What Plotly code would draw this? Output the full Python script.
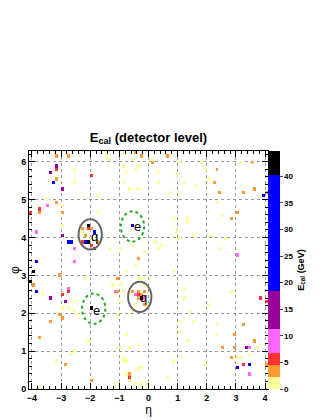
import numpy as np
import plotly.graph_objects as go

# Energy level per colour class (GeV)
LV = {"Y": 1.2, "O": 3.5, "R": 5.5, "P": 9.0, "V": 15.0, "B": 28.0, "K": 42.0}

# calorimeter cells: eta, phi, colour class (one line of each list matches the others)
cell_eta = [
    -3.15, -2.75, -3.15, -3.15, -3.35, -3.15, -3.25, -2.95, -2.55, -2.55, -2.35, -1.95, -1.75,
    -1.45, -1.35, -0.85, -0.45, -0.55, -0.25, -0.35, -0.85, -0.45, -0.75, -0.85, -0.35, -0.65,
    0.15, 0.15, 0.65, 0.35, 0.35, 0.95, 1.05, 1.05, 1.25, 1.65, 1.85, 1.95, 2.05, 2.25, 2.35,
    2.45, 3.15, 3.55, 3.25, 3.65, 4.05, 3.95, 0.75,
    -3.15, -3.45, -3.75, -3.75, -4.05, -2.95, -2.95, -2.95, -3.85, -2.95, -1.75, -3.45,
    -3.85, -3.95, -4.05, -3.95, -3.85, -3.65, -3.35, -3.05, -2.55, -2.55, -2.75, -2.75, -2.95,
    -2.85, -2.95, -2.75, -2.55, -2.55, -2.45, -3.05, -2.95, -3.35, -2.15, -3.75, -3.15, -2.85,
    -2.65, -2.55, -2.05, -1.95, -3.75,
    -2.05, -2.05, -1.95, -2.25, -2.25, -2.15, -1.85, -2.75, -2.65, -2.25, -2.15, -2.05, -1.95,
    -1.85, -1.75, -1.95,
    -1.35, -0.95, -0.55, -0.15, -0.35, -0.45, -0.55, -0.75, 0.25, 0.35, 0.45, 0.85, 1.35, 1.35,
    1.05, 1.55, 2.15, 2.65, 2.45, 2.55, 2.85, 3.05, 2.35, 3.05, 0.85, 1.25, 1.25, 2.85, 2.05,
    1.45, 3.85, 4.05, 0.95,
    -1.05, -1.25, -1.15, -1.05, -1.15, -0.95, -0.95, -0.85, -1.05, -0.55, -0.35, -0.25, 0.05,
    -0.15,
    -0.55, -0.35, -0.15, -0.45, -0.35, -0.25, -0.35, -0.25, -0.15, -0.45, -0.15, -0.05,
    1.05, 1.55, 1.05, 2.35, 2.35, 2.95, 3.25, 1.35, 3.65, 2.55, 2.95, 3.35, 3.45, 3.75, 3.45,
    2.85, 3.05, 3.15, 3.25, 3.45, 3.05, 3.45, 4.05, 1.95, 1.15, 0.85, 0.65, 0.95,
    -0.75, -0.35, -0.65, -0.95, -0.85, -0.85, -0.75, -0.45, -0.35, -0.25, -0.65, -0.65, -0.75,
    -0.65, -0.45, -0.25, -0.05, -1.15,
    -1.95,
]
cell_phi = [
    6.16, 6.16, 5.90, 5.81, 5.72, 5.54, 5.45, 5.28, 5.80, 5.45, 5.20, 5.63, 5.11,
    6.16, 6.07, 6.24, 6.24, 6.07, 6.16, 5.89, 5.89, 5.80, 5.72, 5.45, 5.28, 5.28,
    6.07, 5.98, 6.16, 5.72, 5.45, 5.63, 5.98, 5.19, 5.45, 5.36, 5.98, 5.80, 5.54, 5.45, 5.80,
    5.19, 5.98, 5.98, 5.19, 5.28, 5.19, 5.10, 5.19,
    4.94, 4.85, 4.76, 4.67, 4.67, 4.85, 4.67, 4.32, 4.15, 4.06, 4.67, 5.01,
    3.37, 3.11, 2.84, 2.76, 2.58, 2.49, 2.40, 3.02, 3.37, 3.71, 2.67, 2.58, 2.49,
    2.32, 2.14, 2.14, 2.32, 2.05, 1.96, 1.96, 1.88, 1.79, 2.91, 1.35, 0.73, 0.64,
    0.91, 1.00, 1.26, 0.20, 0.03,
    4.32, 4.23, 4.23, 4.23, 4.15, 4.06, 4.15, 3.88, 3.88, 3.88, 3.88, 3.88, 3.79,
    3.71, 3.88, 3.97,
    3.71, 3.71, 3.79, 3.62, 3.44, 3.27, 4.32, 3.09, 3.88, 3.71, 3.79, 4.50, 4.50, 4.41,
    3.97, 4.06, 4.06, 3.97, 3.71, 4.59, 4.50, 4.67, 4.93, 3.53, 3.09, 2.65, 2.40, 2.58, 2.23,
    2.05, 2.40, 2.32, 4.13,
    2.91, 2.74, 2.58, 2.58, 2.49, 2.74, 2.32, 2.58, 1.96, 2.05, 2.93, 2.93, 2.93,
    2.74,
    2.58, 2.58, 2.58, 2.49, 2.49, 2.49, 2.40, 2.40, 2.40, 2.23, 2.23, 2.23,
    1.79, 1.79, 1.52, 1.70, 1.43, 1.43, 1.70, 1.26, 1.26, 1.08, 1.08, 1.08, 1.08, 1.08, 0.91,
    0.82, 0.82, 0.82, 0.64, 0.64, 0.55, 0.38, 0.64, 0.64, 0.82, 0.73, 0.29, 0.03,
    1.43, 1.17, 1.08, 1.08, 0.82, 0.73, 0.73, 0.47, 0.55, 0.55, 0.38, 0.29, 0.38,
    0.20, 0.11, 0.11, 0.11, 0.11,
    2.14,
]
cell_cls = list(
    "OOVRVOBVYYYRY"
    "YYYOYOYYYYYYY"
    "YOOYYYYYYYYYYOO"
    "OYOOOOBY"
    "OPRORYOYPVYY"
    "BKKOBYVOPPPRR"
    "VYYYYYOOOYOYO"
    "YYYOY"
    "KROOYOBBBRBKR"
    "VOY"
    "YYYYOYBYYYYYYY"
    "YYYYYYOOYPYYYYY"
    "YRRY"
    "OYPOYYYYYYYYY"
    "Y"
    "OOOPROOKPYOY"
    "YYYYYOOYOOOVPYY"
    "OYYRBBPOYYYYY"
    "YYYYYYYYYYORY"
    "YYYYY"
    "K"
)
assert len(cell_eta) == len(cell_phi) == len(cell_cls)
cell_E = [LV[c] for c in cell_cls]

# jets (solid) and electrons (dotted): cone centres, R = 0.4
jet_eta, jet_phi = [-2.0, -0.3], [4.08, 2.43]
ele_eta, ele_phi = [-0.55, -1.88], [4.29, 2.12]
cone_R = 0.4
lab_text = ["q", "q", "e", "e"]
lab_eta = [-1.85, -0.18, -0.38, -1.77]
lab_phi = [4.02, 2.42, 4.29, 2.08]

E_max = 44.75
level_frac = [0, 0.05, 0.10, 0.15, 0.25, 0.41, 0.90, 1.0]
level_col = ["#ffff99", "#ff9933", "#ff3333", "#ff66ff", "#990099", "#0000ff", "#000000"]
cbar_ticks = [0, 5, 10, 15, 20, 25, 30, 35, 40]

# build 2D grid
n_eta, n_phi = 82, 72
deta, dphi = 0.1, 2 * np.pi / 72
eta_c = -4.1 + deta * (np.arange(n_eta) + 0.5)
phi_c = dphi * (np.arange(n_phi) + 0.5)
z = np.full((n_phi, n_eta), np.nan)
for e, p, v in zip(cell_eta, cell_phi, cell_E):
    i = int(np.clip(np.floor((e + 4.1) / deta), 0, n_eta - 1))
    j = int(np.clip(np.floor(p / dphi), 0, n_phi - 1))
    z[j, i] = v

cs = []
for k, c in enumerate(level_col):
    cs.append([level_frac[k], c])
    cs.append([level_frac[k + 1], c])

fig = go.Figure()
fig.add_trace(go.Heatmap(
    x=eta_c, y=phi_c, z=z, zmin=0, zmax=E_max, colorscale=cs, hoverongaps=False,
    colorbar=dict(
        x=1.0, xanchor="left", xpad=0, y=0.5, yanchor="middle", ypad=0, len=1,
        thickness=12, outlinewidth=0, tickvals=cbar_ticks, ticks="outside", ticklen=3,
        tickfont=dict(family="Liberation Sans", size=8, color="black", weight="bold"),
        title=dict(text="E<sub>cal</sub> (GeV)", side="right",
                   font=dict(family="Liberation Sans", size=9, color="black", weight="bold")),
    ),
))

shapes = []
for e, p in zip(jet_eta, jet_phi):
    shapes.append(dict(type="circle", xref="x", yref="y", x0=e - cone_R, x1=e + cone_R,
                       y0=p - cone_R, y1=p + cone_R, line=dict(color="#666666", width=2)))
for e, p in zip(ele_eta, ele_phi):
    shapes.append(dict(type="circle", xref="x", yref="y", x0=e - cone_R, x1=e + cone_R,
                       y0=p - cone_R, y1=p + cone_R,
                       line=dict(color="#22aa22", width=2, dash="dot")))

ann = [dict(x=x, y=y, text=t, showarrow=False, xref="x", yref="y",
            font=dict(family="Liberation Sans", size=13, color="black"))
       for t, x, y in zip(lab_text, lab_eta, lab_phi)]

axis_common = dict(
    showline=True, linecolor="black", linewidth=1, mirror="ticks",
    ticks="inside", ticklen=6, tickcolor="black", automargin=False,
    showgrid=True, gridcolor="#999999", griddash="dot", gridwidth=1,
    zeroline=False,
    tickfont=dict(family="Liberation Sans", size=9, color="black", weight="bold"),
)

# page body adds an 8px offset, so the figure is 8px smaller on each axis
W, H = 316, 412
fig.update_layout(
    width=W, height=H,
    margin=dict(l=21, r=56, t=143, b=31, autoexpand=False),
    paper_bgcolor="white", plot_bgcolor="white",
    title=dict(text="<b>E<sub>cal</sub> (detector level)</b>", x=0.5, xref="paper",
               y=1 - 129 / H, yref="container", yanchor="middle", xanchor="center",
               automargin=False,
               font=dict(family="Liberation Sans", size=13, color="black")),
    shapes=shapes, annotations=ann,
    xaxis=dict(range=[-4.1, 4.1], dtick=1, tick0=0,
               minor=dict(ticks="inside", ticklen=3, dtick=0.2, tickcolor="black", showgrid=False),
               title=dict(text="η", standoff=1, font=dict(family="Liberation Sans", size=12, color="black")),
               **axis_common),
    yaxis=dict(range=[0, 2 * np.pi], dtick=1, tick0=0,
               minor=dict(ticks="inside", ticklen=3, dtick=0.2, tickcolor="black", showgrid=False),
               title=dict(text="φ", standoff=2, font=dict(family="Liberation Sans", size=12, color="black")),
               **axis_common),
)

fig.write_html("out.html")
